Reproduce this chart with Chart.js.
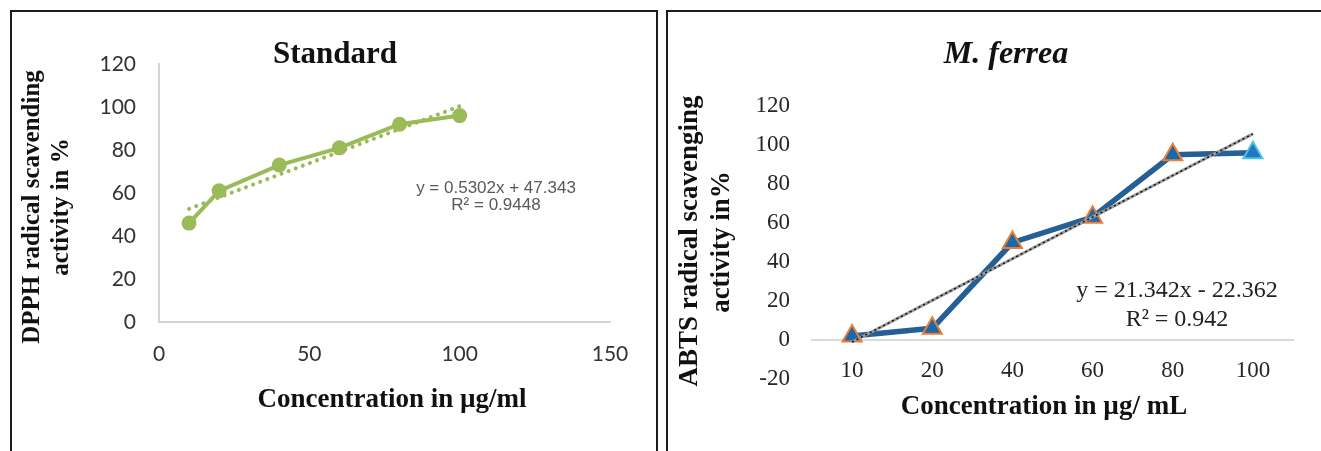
<!DOCTYPE html>
<html>
<head>
<meta charset="utf-8">
<title>Standard / M. ferrea</title>
<script src="https://cdn.jsdelivr.net/npm/chart.js@4.4.1/dist/chart.umd.min.js"></script>
<style>
  body { margin: 0; background: #fff; }
  #wrap { position: relative; width: 1321px; height: 451px; overflow: hidden; }
  canvas { position: absolute; left: 0; top: 0; }
  .panel { position: absolute; border: 2px solid #1c1c1c; border-bottom: none; }
  #p1 { left: 10px; top: 10px; width: 644px; height: 460px; }
  #p2 { left: 666px; top: 10px; width: 700px; height: 460px; }
</style>
</head>
<body>
<div id="wrap">
  <div class="panel" id="p1"></div>
  <div class="panel" id="p2"></div>
  <canvas id="standard" width="1321" height="451"></canvas>
  <canvas id="ferrea" width="1321" height="451"></canvas>
</div>
<script>
// Standard (DPPH)
const stdConc = [10, 20, 40, 60, 80, 100];
const stdActivity = [46, 61, 73, 81, 92, 96];
const stdSlope = 0.5302;
const stdIntercept = 47.343;

// M. ferrea (ABTS)
const mfConc = ['10', '20', '40', '60', '80', '100'];
const mfActivity = [2, 6, 50, 63, 95, 96];
const mfSlope = 21.342;
const mfIntercept = -22.362;

const serif = "'Liberation Serif', 'Times New Roman', serif";

// draws titles, axis titles and trendline equations
function textPlugin(items) {
    return {
        id: 'texts',
        afterDraw(chart) {
            const ctx = chart.ctx;
            items.forEach((t) => {
                ctx.save();
                ctx.font = t.font;
                ctx.fillStyle = t.color || '#111';
                ctx.textAlign = 'center';
                ctx.textBaseline = 'alphabetic';
                ctx.translate(t.x, t.y);
                if (t.rotate) ctx.rotate(-Math.PI / 2);
                ctx.fillText(t.text, 0, 0);
                ctx.restore();
            });
        }
    };
}

const noGrid = { display: false, drawTicks: false };

// ---- left chart ----
new Chart(document.getElementById('standard'), {
    type: 'line',
    data: {
        datasets: [
            {
                data: [10, 100].map((c) => ({ x: c, y: stdSlope * c + stdIntercept })),
                borderColor: '#9bbb59',
                borderWidth: 4,
                borderDash: [0.1, 7.5],
                borderCapStyle: 'round',
                pointRadius: 0
            },
            {
                data: stdConc.map((c, i) => ({ x: c, y: stdActivity[i] })),
                borderColor: '#9bbb59',
                backgroundColor: '#9bbb59',
                borderWidth: 4,
                pointRadius: 7.5,
                pointBorderWidth: 0
            }
        ]
    },
    options: {
        responsive: false,
        animation: false,
        events: [],
        layout: { padding: { top: 64, right: 711, bottom: 0, left: 0 } },
        plugins: { legend: { display: false }, tooltip: { enabled: false } },
        scales: {
            x: {
                type: 'linear', min: 0, max: 150,
                ticks: { stepSize: 50, padding: 20, color: '#333', font: { family: 'Lato', size: 21 } },
                grid: noGrid,
                border: { color: '#d4d4d4', width: 2 },
                afterFit: (s) => { s.height = 129; }
            },
            y: {
                min: 0, max: 120,
                ticks: { stepSize: 20, padding: 23, color: '#333', font: { family: 'Lato', size: 21 } },
                grid: noGrid,
                border: { color: '#d4d4d4', width: 2 },
                afterFit: (s) => { s.width = 159; }
            }
        }
    },
    plugins: [textPlugin([
        { text: 'Standard', x: 335, y: 63, font: 'bold 31px ' + serif },
        { text: 'DPPH radical scavending', x: 39, y: 207, rotate: true, font: 'bold 25px ' + serif },
        { text: 'activity in %', x: 68, y: 207, rotate: true, font: 'bold 25px ' + serif },
        { text: 'Concentration in µg/ml', x: 392, y: 407, font: 'bold 27px ' + serif },
        { text: 'y = 0.5302x + 47.343', x: 496, y: 193, color: '#595959', font: "17px 'Liberation Sans', Arial, sans-serif" },
        { text: 'R² = 0.9448', x: 496, y: 210, color: '#595959', font: "17px 'Liberation Sans', Arial, sans-serif" }
    ])]
});

// ---- right chart ----
const mfTrend = mfConc.map((c, i) => mfSlope * (i + 1) + mfIntercept);

new Chart(document.getElementById('ferrea'), {
    type: 'line',
    data: {
        labels: mfConc,
        datasets: [
            { data: mfTrend, borderColor: '#111', borderWidth: 1.5, borderDash: [2, 3], pointRadius: 0 },
            { data: mfTrend, borderColor: '#9a9a9a', borderWidth: 3, pointRadius: 0 },
            {
                data: mfActivity,
                borderColor: '#245f95',
                borderWidth: 5.5,
                borderJoinStyle: 'round',
                pointStyle: 'triangle',
                pointRadius: 11,
                pointBorderWidth: 2,
                pointBackgroundColor: ['#1b69ad', '#1b69ad', '#1b69ad', '#1b69ad', '#1b69ad', '#1f78c1'],
                pointBorderColor: ['#ed7d31', '#ed7d31', '#ed7d31', '#ed7d31', '#ed7d31', '#4bc4e0']
            }
        ]
    },
    options: {
        responsive: false,
        animation: false,
        events: [],
        layout: { padding: { top: 106, right: 28, bottom: 72, left: 0 } },
        plugins: { legend: { display: false }, tooltip: { enabled: false } },
        scales: {
            x: {
                type: 'category', offset: true, position: { y: 0 },
                ticks: { padding: 17, color: '#262626', font: { family: 'Liberation Serif', size: 23 } },
                grid: noGrid,
                border: { color: '#d9d9d9', width: 2 }
            },
            y: {
                min: -20, max: 120,
                ticks: { stepSize: 20, padding: 22, color: '#262626', font: { family: 'Liberation Serif', size: 23 } },
                grid: noGrid,
                border: { display: false },
                afterFit: (s) => { s.width = 812; }
            }
        }
    },
    plugins: [textPlugin([
        { text: 'M. ferrea', x: 1006, y: 63, font: 'italic bold 32px ' + serif },
        { text: 'ABTS radical scavenging', x: 697, y: 241, rotate: true, font: 'bold 27px ' + serif },
        { text: 'activity in%', x: 729, y: 242, rotate: true, font: 'bold 27px ' + serif },
        { text: 'Concentration in µg/ mL', x: 1044, y: 414, font: 'bold 27px ' + serif },
        { text: 'y = 21.342x - 22.362', x: 1177, y: 297, color: '#222', font: '24px ' + serif },
        { text: 'R² = 0.942', x: 1177, y: 326, color: '#222', font: '24px ' + serif }
    ])]
});
</script>
</body>
</html>
